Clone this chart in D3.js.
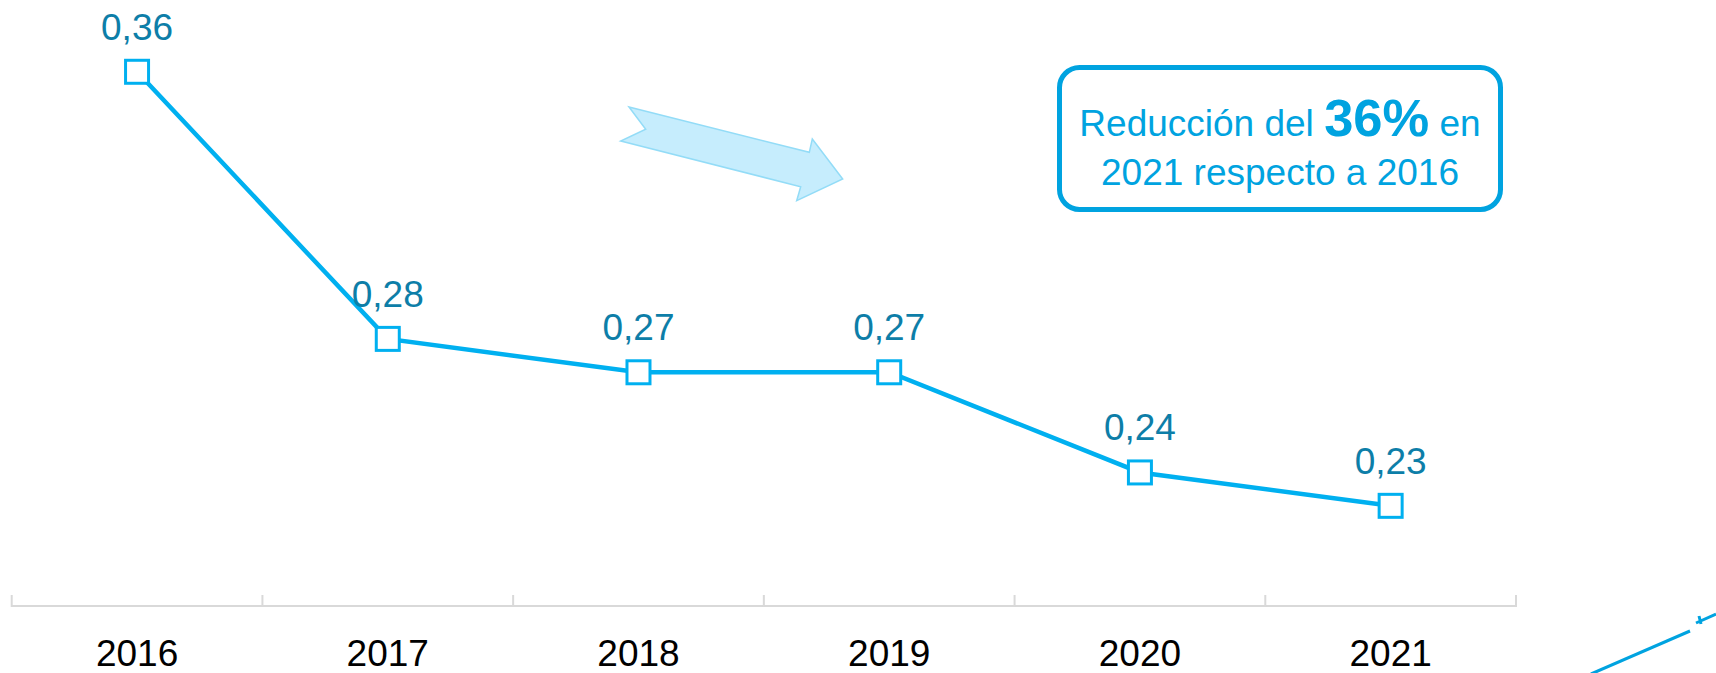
<!DOCTYPE html>
<html>
<head>
<meta charset="utf-8">
<script src="https://cdn.jsdelivr.net/npm/d3@7"></script>
<style>
  body { margin: 0; background: #fff; }
  svg { display: block; font-family: "Liberation Sans", Arial, sans-serif; }
</style>
</head>
<body>
<script>
// data
const years = ["2016", "2017", "2018", "2019", "2020", "2021"];
const values = [0.36, 0.28, 0.27, 0.27, 0.24, 0.23];
const valueLabels = ["0,36", "0,28", "0,27", "0,27", "0,24", "0,23"];

function main(){
    const width = 1716;
    const height = 673;

    const svg = d3.select("body").append("svg")
        .attr("width", width)
        .attr("height", height);

    const x = d3.scaleBand().domain(years).range([11.7, 1516]).padding(0);
    const y = d3.scaleLinear().domain([0.2, 0.38]).range([606, 5]);
    const cx = d => x(d) + x.bandwidth() / 2;

    const lineColor = "#00b0f0";
    const labelColor = "#0d7ea8";
    const boxColor = "#00a3e0";

    // axis labels via d3 axis
    const axis = d3.axisBottom(x).tickSize(0).tickPadding(34);
    const gAxis = svg.append("g")
        .attr("transform", "translate(0,606)")
        .call(axis);
    gAxis.select(".domain").remove();
    gAxis.selectAll("text")
        .attr("font-size", 37)
        .attr("font-family", "Liberation Sans, Arial, sans-serif")
        .attr("fill", "#000");

    // axis baseline + boundary ticks
    svg.append("line")
        .attr("x1", x.range()[0]).attr("x2", x.range()[1])
        .attr("y1", 606).attr("y2", 606)
        .attr("stroke", "#d9d9d9").attr("stroke-width", 2);
    const bounds = years.map(d => x(d)).concat([x(years[years.length - 1]) + x.bandwidth()]);
    svg.selectAll(".btick").data(bounds).enter().append("line")
        .attr("class", "btick")
        .attr("x1", d => d).attr("x2", d => d)
        .attr("y1", 595).attr("y2", 607)
        .attr("stroke", "#d9d9d9").attr("stroke-width", 2);

    // trend arrow
    const arrow = [[629,107],[809.3,152.3],[812.3,139],[842.7,179],[796.7,200.7],[800.7,186.7],[620.7,141],[645.7,129.3]];
    svg.append("polygon")
        .attr("points", arrow.map(p => p.join(",")).join(" "))
        .attr("fill", "#c6edfd")
        .attr("stroke", "#93dcf7")
        .attr("stroke-width", 1.5);

    // line
    const line = d3.line()
        .x((d, i) => cx(years[i]))
        .y(d => y(d));
    svg.append("path")
        .datum(values)
        .attr("d", line)
        .attr("fill", "none")
        .attr("stroke", lineColor)
        .attr("stroke-width", 4.5);

    // markers
    const ms = 23;
    svg.selectAll(".marker").data(values).enter().append("rect")
        .attr("class", "marker")
        .attr("x", (d, i) => cx(years[i]) - ms / 2)
        .attr("y", d => y(d) - ms / 2)
        .attr("width", ms).attr("height", ms)
        .attr("fill", "#fff")
        .attr("stroke", lineColor)
        .attr("stroke-width", 3);

    // value labels
    svg.selectAll(".vlabel").data(values).enter().append("text")
        .attr("class", "vlabel")
        .attr("x", (d, i) => cx(years[i]))
        .attr("y", d => y(d) - 32)
        .attr("text-anchor", "middle")
        .attr("font-size", 37)
        .attr("fill", labelColor)
        .text((d, i) => valueLabels[i]);

    // callout box
    svg.append("rect")
        .attr("x", 1059.5).attr("y", 67.5)
        .attr("width", 441).attr("height", 142)
        .attr("rx", 20).attr("ry", 20)
        .attr("fill", "#fff")
        .attr("stroke", boxColor)
        .attr("stroke-width", 5);
    const t1 = svg.append("text")
        .attr("x", 1280).attr("y", 136)
        .attr("text-anchor", "middle")
        .attr("font-size", 37)
        .attr("fill", boxColor);
    t1.append("tspan").text("Reducción del ");
    t1.append("tspan").attr("font-weight", "bold").attr("font-size", 52.5).text("36%");
    t1.append("tspan").text(" en");
    svg.append("text")
        .attr("x", 1280).attr("y", 185)
        .attr("text-anchor", "middle")
        .attr("font-size", 37)
        .attr("fill", boxColor)
        .text("2021 respecto a 2016");

    // cut-off decoration at bottom right
    svg.append("path")
        .attr("d", "M1591,674 L1690,631")
        .attr("stroke", boxColor).attr("stroke-width", 3).attr("fill", "none");
    svg.append("path")
        .attr("d", "M1696,623 L1716,614 M1699,616 L1701,624")
        .attr("stroke", boxColor).attr("stroke-width", 3).attr("fill", "none");
}
main();
</script>
</body>
</html>
